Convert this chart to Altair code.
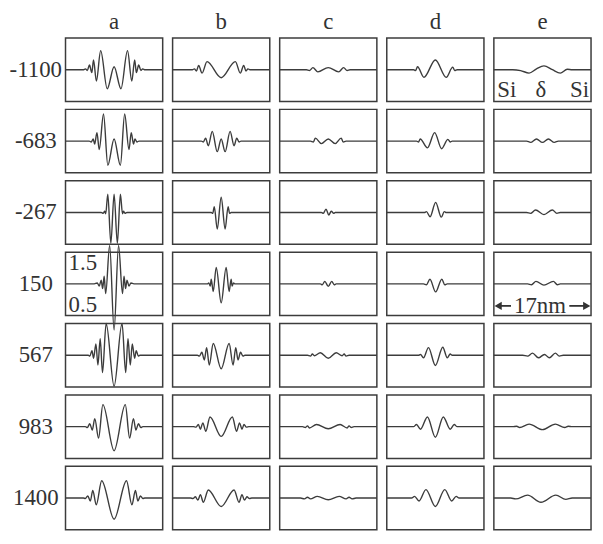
import altair as alt
import pandas as pd

COLUMNS = ["a", "b", "c", "d", "e"]
ROWS = ["-1100", "-683", "-267", "150", "567", "983", "1400"]

# x in nm (panel spans 17 nm, centred on 0); y in the figure's units (baseline 1.0)
a1_x = [-8.5, -5.4, -5.0, -4.7, -4.3, -3.9, -3.6, -3.1, -2.35, -1.2, 0.0, 1.2, 2.35, 3.1, 3.6, 3.9, 4.3, 4.7, 5.0, 5.4, 8.5]
a1_y = [1.0, 1.0, 1.02, 0.98, 1.11, 0.93, 1.23, 0.73, 1.45, 0.55, 1.07, 0.55, 1.45, 0.73, 1.23, 0.93, 1.11, 0.98, 1.02, 1.0, 1.0]
a2_x = [-8.5, -4.35, -4.0, -3.65, -3.4, -3.0, -2.6, -1.85, -1.1, 0.0, 1.1, 1.85, 2.6, 3.0, 3.4, 3.65, 4.0, 4.35, 8.5]
a2_y = [1.0, 1.0, 0.98, 1.05, 0.93, 1.2, 0.8, 1.64, 0.43, 1.05, 0.43, 1.64, 0.8, 1.2, 0.93, 1.05, 0.98, 1.0, 1.0]
a3_x = [-8.5, -2.25, -1.9, -1.65, -1.47, -1.1, -0.57, 0.0, 0.57, 1.1, 1.47, 1.65, 1.9, 2.25, 8.5]
a3_y = [1.0, 1.0, 0.98, 1.03, 0.97, 1.43, 0.27, 1.43, 0.27, 1.43, 0.97, 1.03, 0.98, 1.0, 1.0]
a4_x = [-8.5, -3.47, -2.95, -2.6, -2.26, -2.0, -1.74, -1.47, -0.78, 0.0, 0.78, 1.47, 1.74, 2.0, 2.26, 2.6, 2.95, 3.47, 8.5]
a4_y = [1.0, 1.0, 1.02, 0.95, 1.09, 0.89, 1.18, 0.77, 1.91, -0.09, 1.91, 0.77, 1.18, 0.89, 1.09, 0.95, 1.02, 1.0, 1.0]
a5_x = [-8.5, -4.51, -4.25, -3.87, -3.59, -3.18, -2.83, -2.43, -2.03, -1.39, 0.0, 1.39, 2.03, 2.43, 2.83, 3.18, 3.59, 3.87, 4.25, 4.51, 8.5]
a5_y = [1.0, 1.0, 0.98, 1.11, 0.93, 1.27, 0.77, 1.39, 0.59, 1.75, 0.27, 1.75, 0.59, 1.39, 0.77, 1.27, 0.93, 1.11, 0.98, 1.0, 1.0]
a6_x = [-8.5, -5.03, -4.68, -4.25, -3.82, -3.38, -2.72, -1.96, 0.0, 1.96, 2.72, 3.38, 3.82, 4.25, 4.68, 5.03, 8.5]
a6_y = [1.0, 1.0, 0.98, 1.07, 0.92, 1.19, 0.73, 1.52, 0.43, 1.52, 0.73, 1.19, 0.92, 1.07, 0.98, 1.0, 1.0]
a7_x = [-8.5, -5.38, -5.03, -4.6, -4.16, -3.73, -3.12, -2.17, 0.0, 2.17, 3.12, 3.73, 4.16, 4.6, 5.03, 5.38, 8.5]
a7_y = [1.0, 1.0, 0.99, 1.05, 0.93, 1.18, 0.84, 1.41, 0.5, 1.41, 0.84, 1.18, 0.93, 1.05, 0.99, 1.0, 1.0]

b1_x = [-8.5, -5.03, -4.68, -4.34, -3.94, -3.35, -2.48, 0.0, 2.48, 3.35, 3.94, 4.34, 4.68, 5.03, 8.5]
b1_y = [1.0, 1.0, 1.02, 0.97, 1.1, 0.92, 1.19, 0.81, 1.19, 0.92, 1.1, 0.97, 1.02, 1.0, 1.0]
b2_x = [-8.5, -3.47, -3.12, -2.72, -2.26, -1.56, -0.69, 0.0, 0.69, 1.56, 2.26, 2.72, 3.12, 3.47, 8.5]
b2_y = [1.0, 1.0, 0.98, 1.07, 0.89, 1.23, 0.75, 1.05, 0.75, 1.23, 0.89, 1.07, 0.98, 1.0, 1.0]
b3_x = [-8.5, -1.74, -1.47, -1.21, -0.69, 0.0, 0.69, 1.21, 1.47, 1.74, 8.5]
b3_y = [1.0, 1.0, 0.98, 1.14, 0.61, 1.36, 0.61, 1.14, 0.98, 1.0, 1.0]
b4_x = [-8.5, -2.43, -2.17, -1.91, -1.74, -1.39, -0.87, 0.0, 0.87, 1.39, 1.74, 1.91, 2.17, 2.43, 8.5]
b4_y = [1.0, 1.0, 1.02, 0.95, 1.11, 0.82, 1.39, 0.55, 1.39, 0.82, 1.11, 0.95, 1.02, 1.0, 1.0]
b5_x = [-8.5, -4.16, -3.82, -3.38, -2.95, -2.55, -2.08, -1.39, 0.0, 1.39, 2.08, 2.55, 2.95, 3.38, 3.82, 4.16, 8.5]
b5_y = [1.0, 1.0, 0.98, 1.07, 0.89, 1.18, 0.77, 1.28, 0.68, 1.28, 0.77, 1.18, 0.89, 1.07, 0.98, 1.0, 1.0]
b6_x = [-8.5, -4.86, -4.42, -3.99, -3.64, -3.21, -2.69, -1.96, 0.0, 1.96, 2.69, 3.21, 3.64, 3.99, 4.42, 4.86, 8.5]
b6_y = [1.0, 1.0, 0.99, 1.05, 0.94, 1.09, 0.89, 1.23, 0.77, 1.23, 0.89, 1.09, 0.94, 1.05, 0.99, 1.0, 1.0]
b7_x = [-8.5, -5.38, -4.95, -4.51, -4.08, -3.64, -3.12, -2.26, 0.0, 2.26, 3.12, 3.64, 4.08, 4.51, 4.95, 5.38, 8.5]
b7_y = [1.0, 1.0, 0.99, 1.03, 0.95, 1.08, 0.9, 1.19, 0.8, 1.19, 0.9, 1.08, 0.95, 1.03, 0.99, 1.0, 1.0]

c1_x = [-8.5, -3.82, -3.3, -2.69, -1.82, 0.0, 1.82, 2.69, 3.3, 3.82, 8.5]
c1_y = [1.0, 1.0, 0.98, 1.05, 0.95, 1.05, 0.95, 1.05, 0.98, 1.0, 1.0]
c2_x = [-8.5, -3.12, -2.6, -2.26, -1.21, 0.0, 1.21, 2.26, 2.6, 3.12, 8.5]
c2_y = [1.0, 1.0, 0.98, 1.07, 0.94, 1.05, 0.94, 1.07, 0.98, 1.0, 1.0]
c3_x = [-8.5, -1.21, -0.87, -0.4, 0.09, 0.52, 0.95, 1.21, 8.5]
c3_y = [1.0, 1.0, 0.98, 1.08, 0.94, 1.03, 0.98, 1.0, 1.0]
c4_x = [-8.5, -1.39, -1.04, -0.61, 0.0, 0.61, 1.04, 1.39, 8.5]
c4_y = [1.0, 1.0, 0.98, 1.06, 0.94, 1.06, 0.98, 1.0, 1.0]
c5_x = [-8.5, -3.64, -3.12, -2.78, -2.43, -1.39, 0.0, 1.39, 2.43, 2.78, 3.12, 3.64, 8.5]
c5_y = [1.0, 1.0, 0.98, 1.03, 0.99, 1.06, 0.93, 1.06, 0.99, 1.03, 0.98, 1.0, 1.0]
c6_x = [-8.5, -4.51, -3.99, -3.64, -3.3, -2.08, 0.0, 2.08, 3.3, 3.64, 3.99, 4.51, 8.5]
c6_y = [1.0, 1.0, 0.98, 1.02, 0.97, 1.05, 0.95, 1.05, 0.97, 1.02, 0.98, 1.0, 1.0]
c7_x = [-8.5, -4.86, -4.16, -3.64, -3.12, -1.91, 0.0, 1.91, 3.12, 3.64, 4.16, 4.86, 8.5]
c7_y = [1.0, 1.0, 0.98, 1.02, 0.98, 1.04, 0.96, 1.04, 0.98, 1.02, 0.98, 1.0, 1.0]

d1_x = [-8.5, -3.82, -3.47, -3.12, -2.0, 0.0, 1.91, 3.04, 3.38, 3.82, 8.5]
d1_y = [1.0, 1.0, 0.98, 1.07, 0.82, 1.23, 0.82, 1.06, 0.98, 1.0, 1.0]
d2_x = [-8.5, -3.3, -2.95, -2.65, -1.39, -0.12, 1.09, 2.2, 2.6, 2.95, 8.5]
d2_y = [1.0, 1.0, 0.98, 1.05, 0.84, 1.2, 0.82, 1.04, 0.98, 1.0, 1.0]
d3_x = [-8.5, -1.91, -1.56, -0.92, 0.05, 1.04, 1.56, 1.91, 8.5]
d3_y = [1.0, 1.0, 1.02, 0.9, 1.24, 0.89, 1.02, 1.0, 1.0]
d4_x = [-8.5, -2.08, -1.56, -0.95, 0.05, 1.13, 1.65, 2.08, 8.5]
d4_y = [1.0, 1.0, 0.98, 1.11, 0.81, 1.11, 0.98, 1.0, 1.0]
d5_x = [-8.5, -2.95, -2.6, -2.08, -1.21, 0.0, 1.3, 2.08, 2.6, 2.95, 8.5]
d5_y = [1.0, 1.0, 1.02, 0.94, 1.18, 0.76, 1.19, 0.94, 1.03, 1.0, 1.0]
d6_x = [-8.5, -3.82, -3.3, -2.6, -1.39, 0.0, 1.39, 2.6, 3.3, 3.82, 8.5]
d6_y = [1.0, 1.0, 1.05, 0.94, 1.23, 0.75, 1.23, 0.94, 1.05, 1.0, 1.0]
d7_x = [-8.5, -4.16, -3.64, -2.86, -1.65, 0.0, 1.65, 2.86, 3.64, 4.16, 8.5]
d7_y = [1.0, 1.0, 1.04, 0.93, 1.2, 0.8, 1.2, 0.93, 1.04, 1.0, 1.0]

e1_x = [-8.5, -5.21, -3.82, -2.34, -1.04, 0.26, 1.74, 3.12, 4.34, 5.21, 8.5]
e1_y = [1.0, 1.0, 0.98, 0.92, 1.02, 1.09, 1.0, 0.92, 1.01, 1.0, 1.0]
e2_x = [-8.5, -2.78, -2.08, -1.04, 0.0, 1.04, 2.08, 2.78, 8.5]
e2_y = [1.0, 1.0, 0.97, 1.05, 0.97, 1.05, 0.97, 1.0, 1.0]
e3_x = [-8.5, -2.78, -2.08, -1.21, 0.26, 1.74, 2.52, 3.12, 8.5]
e3_y = [1.0, 1.0, 0.98, 1.06, 0.95, 1.06, 0.98, 1.0, 1.0]
e4_x = [-8.5, -2.6, -1.91, -1.13, 0.26, 1.91, 2.6, 3.12, 8.5]
e4_y = [1.0, 1.0, 0.98, 1.06, 0.97, 1.06, 0.98, 1.0, 1.0]
e5_x = [-8.5, -3.47, -2.6, -1.74, -0.69, 0.35, 1.21, 2.26, 2.95, 3.64, 8.5]
e5_y = [1.0, 1.0, 0.98, 1.05, 0.94, 1.02, 0.94, 1.05, 0.98, 1.0, 1.0]
e6_x = [-8.5, -5.21, -4.51, -3.99, -2.34, 0.0, 2.26, 3.9, 4.51, 5.21, 8.5]
e6_y = [1.0, 1.0, 1.01, 0.98, 1.06, 0.93, 1.06, 0.98, 1.01, 1.0, 1.0]
e7_x = [-8.5, -5.55, -4.68, -2.6, -0.26, 2.34, 4.08, 5.21, 8.5]
e7_y = [1.0, 1.0, 0.98, 1.07, 0.9, 1.07, 0.97, 1.0, 1.0]

CURVES = {
    "a": [(a1_x, a1_y), (a2_x, a2_y), (a3_x, a3_y), (a4_x, a4_y), (a5_x, a5_y), (a6_x, a6_y), (a7_x, a7_y)],
    "b": [(b1_x, b1_y), (b2_x, b2_y), (b3_x, b3_y), (b4_x, b4_y), (b5_x, b5_y), (b6_x, b6_y), (b7_x, b7_y)],
    "c": [(c1_x, c1_y), (c2_x, c2_y), (c3_x, c3_y), (c4_x, c4_y), (c5_x, c5_y), (c6_x, c6_y), (c7_x, c7_y)],
    "d": [(d1_x, d1_y), (d2_x, d2_y), (d3_x, d3_y), (d4_x, d4_y), (d5_x, d5_y), (d6_x, d6_y), (d7_x, d7_y)],
    "e": [(e1_x, e1_y), (e2_x, e2_y), (e3_x, e3_y), (e4_x, e4_y), (e5_x, e5_y), (e6_x, e6_y), (e7_x, e7_y)],
}

# annotations (data coordinates inside a given panel)
LABEL_TEXT = ["1.5", "0.5", "Si", "δ", "Si", "17nm"]
LABEL_COL = ["a", "a", "e", "e", "e", "e"]
LABEL_ROW = ["150", "150", "-1100", "-1100", "-1100", "150"]
LABEL_X = [-5.47, -5.47, -6.25, -0.26, 6.5, -0.43]
LABEL_Y = [1.5, 0.5, 0.52, 0.52, 0.52, 0.48]

# row labels sit left of the column-a panels, column letters above the top row
ROW_LABEL_X = -13.7
ROW_LABEL_Y = 1.0
COL_LABEL_X = 0.0
COL_LABEL_Y = 2.12

ARROW_X = [-8.0, 4.7]
ARROW_X2 = [-5.5, 8.0]
ARROW_Y = [0.48, 0.48]
HEAD_X = [-7.75, 7.75]
HEAD_DIR = ["L", "R"]

records = []
for col in COLUMNS:
    for r, (xs, ys) in zip(ROWS, CURVES[col]):
        for i, (x, y) in enumerate(zip(xs, ys)):
            records.append({"kind": "curve", "col": col, "row": r, "x": x, "y": y, "i": i})
for t, c, r, x, y in zip(LABEL_TEXT, LABEL_COL, LABEL_ROW, LABEL_X, LABEL_Y):
    records.append({"kind": "text", "col": c, "row": r, "x": x, "y": y, "label": t})
for r in ROWS:
    records.append({"kind": "text", "col": COLUMNS[0], "row": r, "x": ROW_LABEL_X, "y": ROW_LABEL_Y, "label": r})
for c in COLUMNS:
    records.append({"kind": "text", "col": c, "row": ROWS[0], "x": COL_LABEL_X, "y": COL_LABEL_Y, "label": c})
for x, x2, y in zip(ARROW_X, ARROW_X2, ARROW_Y):
    records.append({"kind": "arrow", "col": "e", "row": "150", "x": x, "x2": x2, "y": y})
for x, d, y in zip(HEAD_X, HEAD_DIR, ARROW_Y):
    records.append({"kind": "head", "col": "e", "row": "150", "x": x, "y": y, "dir": d})
df = pd.DataFrame(records)

SERIF = "Liberation Serif"
INK = "#333333"
LINE = "#3c3c3c"

xsc = alt.Scale(domain=[-8.5, 8.5], nice=False, zero=False)
ysc = alt.Scale(domain=[0.25, 1.75], nice=False, zero=False)
X = alt.X("x:Q", scale=xsc, axis=None)
Y = alt.Y("y:Q", scale=ysc, axis=None)

line = alt.Chart().mark_line(interpolate="monotone", color=LINE, strokeWidth=1.4).encode(
    x=X, y=Y, order="i:Q"
).transform_filter("datum.kind == 'curve'")

text = alt.Chart().mark_text(font=SERIF, fontSize=23, color=INK, align="center", baseline="middle").encode(
    x=X, y=Y, text="label:N"
).transform_filter("datum.kind == 'text'")

rule = alt.Chart().mark_rule(color=INK, strokeWidth=1.8).encode(
    x=X, x2="x2:Q", y=Y
).transform_filter("datum.kind == 'arrow'")

head = alt.Chart().mark_point(filled=True, color=INK, size=70, opacity=1).encode(
    x=X, y=Y,
    shape=alt.Shape("dir:N", scale=alt.Scale(domain=["L", "R"], range=["triangle-left", "triangle-right"]), legend=None),
).transform_filter("datum.kind == 'head'")

chart = alt.layer(line, text, rule, head, data=df).properties(width=98, height=64).facet(
    row=alt.Row("row:N", sort=ROWS, title=None, header=alt.Header(labels=False)),
    column=alt.Column("col:N", sort=COLUMNS, title=None, header=alt.Header(labels=False)),
    spacing={"row": 8, "column": 10},
    bounds="flush",
).properties(
    padding={"left": 0, "top": 0, "right": 0, "bottom": 0}, background="white"
).configure_view(stroke=LINE, strokeWidth=1.5)

chart.save("out.html", embed_options={"renderer": "svg", "actions": False})
